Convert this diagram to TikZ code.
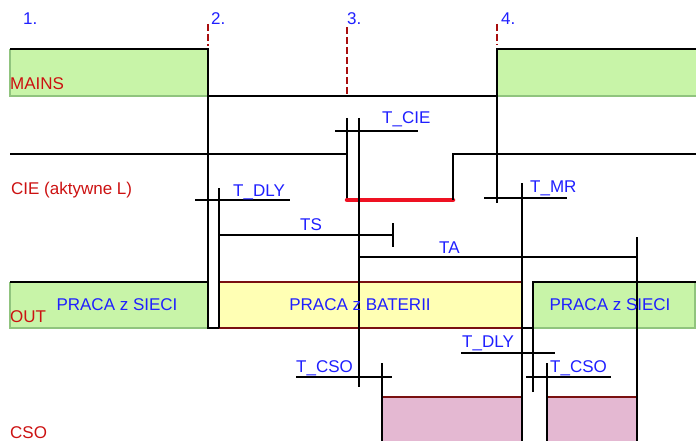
\documentclass[tikz,border=0pt]{standalone}
\usepackage{fontspec}
\setmainfont{Liberation Sans}
\usetikzlibrary{positioning}
\definecolor{mainsgreen}{HTML}{C8F4A8}
\definecolor{greenedge}{HTML}{90C47E}
\definecolor{batyellow}{HTML}{FFFFB4}
\definecolor{batedge}{HTML}{7A1010}
\definecolor{csopink}{HTML}{E4B8D2}
\definecolor{namered}{HTML}{CC1111}
\definecolor{tblue}{HTML}{1F1FFF}
\definecolor{markred}{HTML}{A80E0E}
\definecolor{lowred}{HTML}{EE1122}

\begin{document}
\begin{tikzpicture}[
  x=1pt,y=-1pt,
  sigline/.style={draw,black,line width=2.6pt},
  tmark/.style={draw,markred,line width=2.6pt,dash pattern=on 7pt off 3pt},
  redlow/.style={draw,lowred,line width=4.5pt,line cap=round},
  greenrim/.style={draw,greenedge,line width=2.4pt},
  sname/.style={text=namered,inner sep=0pt,anchor=base west,font=\fontsize{17}{20}\selectfont},
  tlabel/.style={text=tblue,inner sep=0pt,anchor=base west,font=\fontsize{17}{20}\selectfont},
  boxtext/.style={text=tblue,inner sep=0pt,anchor=base,font=\fontsize{17}{20}\selectfont}
]
\useasboundingbox (0,0) rectangle (696,441);

% Fills
\fill[mainsgreen] (10,49) rectangle (208,96);
\fill[mainsgreen] (497,49) rectangle (696,96);
\fill[mainsgreen] (10,282) rectangle (208,328);
\fill[batyellow] (219,282) rectangle (522,328);
\fill[mainsgreen] (533,282) rectangle (696,328);
\fill[csopink] (382,397) rectangle (522,441);
\fill[csopink] (547,397) rectangle (637,441);
\draw[greenrim] (10,49) -- (10,96) -- (208,96);
\draw[greenrim] (497,96) -- (696,96);
\draw[greenrim] (10,282) -- (10,328) -- (208,328);
\draw[greenrim] (533,328) -- (695,328) -- (695,282);
\draw[batedge,line width=2.4pt] (219,328) -- (522,328);
\draw[batedge,line width=2.4pt] (219,282) -- (522,282);
\draw[batedge,line width=2.4pt] (382,397) -- (522,397);
\draw[batedge,line width=2.4pt] (547,397) -- (637,397);

% Time points
\draw[tmark] (208,24) -- (208,46);
\draw[tmark] (347,27) -- (347,97);
\draw[tmark] (497,24) -- (497,45);
\node[tlabel] (p1) at (23,25) {1.};
\node[tlabel] (p2) at (211,25) {2.};
\node[tlabel] (p3) at (347,25) {3.};
\node[tlabel] (p4) at (501,25) {4.};

% MAINS
\draw[sigline] (10,49) -- (208,49) -- (208,328) -- (219,328);
\draw[sigline] (208,96) -- (497,96);
\draw[sigline] (696,49) -- (497,49) -- (497,203);
\node[sname] (mains) at (10,90) {MAINS};

% CIE
\draw[sigline] (10,154) -- (347,154);
\draw[sigline] (347,118) -- (347,200);
\draw[redlow] (347,200) -- (453,200);
\draw[sigline] (453,200) -- (453,154) -- (696,154);
\node[sname] (cie) at (11,194) {CIE (aktywne L)};

% T_CIE, TS, TA
\draw[sigline] (335,131) -- (418,131);
\draw[sigline] (359,118) -- (359,387);
\node[tlabel] (tcie) at (382,124) {T\_CIE};
\draw[sigline] (195,200) -- (290,200);
\node[tlabel] (tdly1) at (233,196) {T\_DLY};
\draw[sigline] (219,188) -- (219,328);
\draw[sigline] (219,235) -- (393,235);
\draw[sigline] (393,223) -- (393,247);
\node[tlabel] (ts) at (300,230) {TS};
\draw[sigline] (359,257) -- (637,257);
\draw[sigline] (637,237) -- (637,441);
\node[tlabel] (ta) at (439,253) {TA};
\draw[sigline] (484,198) -- (567,198);
\draw[sigline] (522,183) -- (522,441);
\node[tlabel] (tmr) at (530,193) {T\_MR};

% OUT
\draw[sigline] (10,282) -- (208,282);
\draw[sigline] (522,328) -- (533,328);
\draw[sigline] (533,392) -- (533,282) -- (696,282);
\node[sname] (out) at (10,322) {OUT};
\node[boxtext] (siec1) at (117,310) {PRACA z SIECI};
\node[boxtext] (bat) at (360,310) {PRACA z BATERII};
\node[boxtext] (siec2) at (610,310) {PRACA z SIECI};

% CSO
\draw[sigline] (461,353) -- (555,353);
\node[tlabel] (tdly2) at (462,347) {T\_DLY};
\draw[sigline] (296,377) -- (392,377);
\draw[sigline] (382,363) -- (382,441);
\node[tlabel] (tcso1) at (296,372) {T\_CSO};
\draw[sigline] (526,377) -- (611,377);
\draw[sigline] (547,363) -- (547,441);
\node[tlabel] (tcso2) at (550,372) {T\_CSO};
\node[sname] (cso) at (10,438) {CSO};
\end{tikzpicture}
\end{document}
